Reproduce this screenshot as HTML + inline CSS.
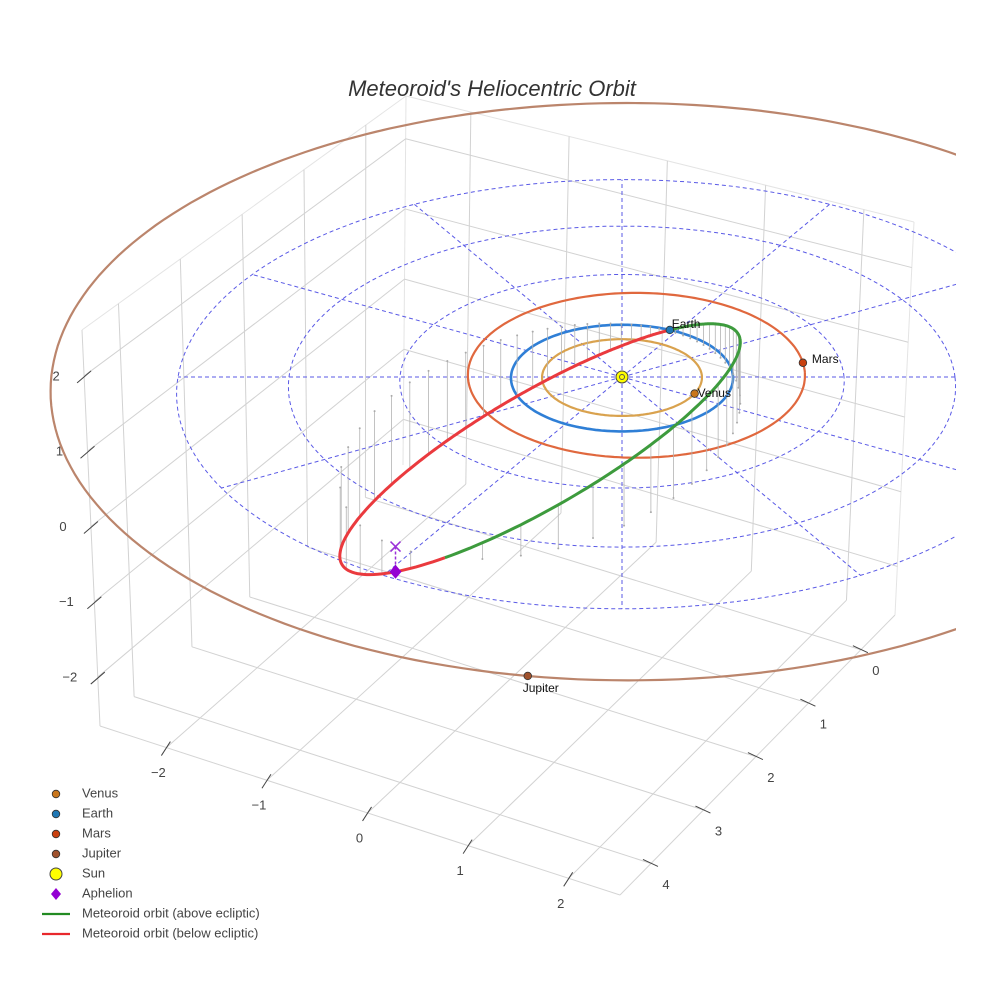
<!DOCTYPE html>
<html><head><meta charset="utf-8"><style>
html,body{margin:0;padding:0;background:#fff}
svg{display:block;font-family:"Liberation Sans",Arial,sans-serif}
</style></head><body>
<svg id="chart" width="984" height="984" viewBox="0 0 984 984" xmlns="http://www.w3.org/2000/svg">
<defs><clipPath id="sceneClip"><rect x="0" y="0" width="956" height="984"/></clipPath></defs>
<rect width="984" height="984" fill="#fff"/>
<text x="492" y="96" text-anchor="middle" font-size="22" font-style="italic" fill="#333">Meteoroid's Heliocentric Orbit</text>
<g id="box"></g>
<g id="ecl" clip-path="url(#sceneClip)"></g>
<g id="legend"></g>
</svg>
<script>
// ---- data ----
const xTicks = [-2, -1, 0, 1, 2];
const yTicks = [0, 1, 2, 3, 4];
const zTicks = [-2, -1, 0, 1, 2];
const gridRings = [2, 3, 4];
const radialAngles = [0, 30, 60, 90, 120, 150, 180, 210, 240, 270, 300, 330];
const planetNames = ["Venus", "Earth", "Mars", "Jupiter"];
const planetA = [0.72, 1.0, 1.52, 5.2];
const planetB = [0.72, 1.0, 1.55, 5.42];
const planetCenterOffset = [0, 0, 0.13, 0.05];
const planetCenterOffsetV = [0, 0, 0.08, 0.31];
const planetAngleDeg = [-25.5, 64, 7, -99];
const orbitA = 2.271, orbitE = 0.5705, orbitIncDeg = 34, nodeAngleDeg = -115.2, apAfterNodeDeg = 9;

const NS = "http://www.w3.org/2000/svg";
function mk(tag, attrs, parent) {
  const el = document.createElementNS(NS, tag);
  for (const k in attrs) el.setAttribute(k, attrs[k]);
  parent.appendChild(el);
  return el;
}
// ---- box projection (trilinear) ----
const X0 = -2.66, X1 = 2.51, Y0 = -0.65, Y1 = 4.59, Z0 = -2.65, Z1 = 2.61;
const C = {
  "000": [403, 465], "100": [895, 615], "010": [100, 726], "110": [620, 895],
  "001": [406, 96], "101": [914, 222], "011": [82, 330], "111": [590, 480]
};
function B(x, y, z) {
  const a = (x - X0) / (X1 - X0), b = (y - Y0) / (Y1 - Y0), c = (z - Z0) / (Z1 - Z0);
  let px = 0, py = 0;
  for (const key in C) {
    const wx = key[0] === "1" ? a : 1 - a, wy = key[1] === "1" ? b : 1 - b, wz = key[2] === "1" ? c : 1 - c;
    const w = wx * wy * wz;
    px += w * C[key][0]; py += w * C[key][1];
  }
  return [px, py];
}
const box = document.getElementById("box");
function bline(p, q, color, name, w) {
  const l = mk("line", {x1: p[0], y1: p[1], x2: q[0], y2: q[1], stroke: color, "stroke-width": w || 1}, box);
  
  
}
bline(B(X0,Y0,Z0), B(X0,Y0,Z1), "#e4e4e4", "box-edge");
bline(B(X0,Y0,Z1), B(X1,Y0,Z1), "#e4e4e4", "box-edge");
bline(B(X0,Y0,Z1), B(X0,Y1,Z1), "#e4e4e4", "box-edge");
bline(B(X0,Y1,Z1), B(X0,Y1,Z0), "#d4d4d4", "z-axis-line");
bline(B(X0,Y1,Z0), B(X1,Y1,Z0), "#d4d4d4", "x-axis-line");
bline(B(X1,Y1,Z0), B(X1,Y0,Z0), "#d4d4d4", "y-axis-line");
bline(B(X1,Y0,Z0), B(X1,Y0,Z1), "#e4e4e4", "box-edge");
xTicks.forEach(x => {
  bline(B(x,Y0,Z0), B(x,Y1,Z0), "#d2d2d2", "floor-grid-x");
  bline(B(x,Y0,Z0), B(x,Y0,Z1), "#d2d2d2", "back-grid-x");
});
yTicks.forEach(y => {
  bline(B(X0,y,Z0), B(X1,y,Z0), "#d2d2d2", "floor-grid-y");
  bline(B(X0,y,Z0), B(X0,y,Z1), "#d2d2d2", "left-grid-y");
});
zTicks.forEach(z => {
  bline(B(X0,Y0,z), B(X1,Y0,z), "#d2d2d2", "back-grid-z");
  bline(B(X0,Y0,z), B(X0,Y1,z), "#d2d2d2", "left-grid-z");
});
function tlabel(x, y, s, name) {
  const t = mk("text", {x: x, y: y, "font-size": 13, fill: "#444", "text-anchor": "middle", "dominant-baseline": "middle"}, box);
  t.textContent = s;
  
  
}
const fmt = v => v < 0 ? "\u2212" + Math.abs(v) : String(v);
xTicks.forEach(x => {
  const p = B(x, Y1, Z0);
  bline([p[0]-5, p[1]+8], [p[0]+4, p[1]-6], "#444", "x-tick-mark");
  tlabel(p[0]-8, p[1]+26, fmt(x), "x-tick-label");
});
yTicks.forEach(y => {
  const p = B(X1, y, Z0);
  bline([p[0]-8, p[1]-4], [p[0]+7, p[1]+3], "#444", "y-tick-mark");
  tlabel(p[0]+15, p[1]+22, fmt(y), "y-tick-label");
});
zTicks.forEach(z => {
  const p = B(X0, Y1, z);
  bline([p[0]-7, p[1]+7], [p[0]+7, p[1]-5], "#444", "z-tick-mark");
  tlabel(p[0]-28, p[1]+1, fmt(z), "z-tick-label");
});

// ---- ecliptic projection ----
function E(u, v, z) {
  const w = 1 + 0.02 * v;
  return [622 + 111 * u / w, 377 - (53.3 * v + 76 * (z || 0)) / w];
}
const ecl = document.getElementById("ecl");
function pathFrom(pts) { return pts.map((p, i) => (i ? "L" : "M") + p[0].toFixed(1) + "," + p[1].toFixed(1)).join(""); }
function ring(ra, rb, cu, cv, color, w, dash, name) {
  const pts = [];
  for (let k = 0; k <= 240; k++) { const t = k / 240 * 2 * Math.PI; pts.push(E(cu + ra * Math.cos(t), cv + rb * Math.sin(t), 0)); }
  const p = mk("path", {d: pathFrom(pts), fill: "none", stroke: color, "stroke-width": w}, ecl);
  if (dash) p.setAttribute("stroke-dasharray", dash);
  
  
}
gridRings.forEach(r => ring(r, r, 0, 0, "#5a5ae6", 1, "4,3", "ecliptic-grid-ring"));
radialAngles.forEach(a => {
  const t = a * Math.PI / 180, p = E(0,0,0), q = E(4 * Math.cos(t), 4 * Math.sin(t), 0);
  const l = mk("line", {x1: p[0], y1: p[1], x2: q[0], y2: q[1], stroke: "#5a5ae6", "stroke-width": 1, "stroke-dasharray": "4,3"}, ecl);
  
  
});
const ringColors = ["#d9a24e", "#2f7fd6", "#e0683e", "#bb856c"];
const dotColors = ["#c9761c", "#1f77b4", "#c9400f", "#a0522d"];
planetNames.forEach((n, i) => ring(planetA[i], planetB[i], planetCenterOffset[i], planetCenterOffsetV[i], ringColors[i], i === 1 ? 2.6 : 2.2, null, n.toLowerCase() + "-orbit"));

// ---- meteoroid orbit ----
const inc = orbitIncDeg * Math.PI / 180, om = nodeAngleDeg * Math.PI / 180, al = apAfterNodeDeg * Math.PI / 180;
const p_ = orbitA * (1 - orbitE * orbitE);
const nH = [Math.cos(om), Math.sin(om)], mH = [Math.sin(om), -Math.cos(om)];
function orbitPt(phi) {
  const nu = phi - al + Math.PI;
  const r = p_ / (1 + orbitE * Math.cos(nu));
  const a = r * Math.cos(phi), b = r * Math.sin(phi) * Math.cos(inc);
  return [a * nH[0] + b * mH[0], a * nH[1] + b * mH[1], -r * Math.sin(phi) * Math.sin(inc)];
}
for (let d = 0; d < 360; d += 6) {
  const o = orbitPt(d * Math.PI / 180);
  if (Math.abs(o[2]) < 0.03) continue;
  const a = E(o[0], o[1], o[2]), b = E(o[0], o[1], 0);
  const l = mk("line", {x1: a[0], y1: a[1], x2: b[0], y2: b[1], stroke: "#b4b4b4", "stroke-width": 0.8}, ecl);
  
  
  const c = mk("circle", {cx: b[0], cy: b[1], r: 1, fill: "#aaa"}, ecl);
  
  
}
const below = [], above = [];
for (let k = 0; k <= 180; k++) { const o = orbitPt(k / 180 * Math.PI); below.push(E(o[0], o[1], o[2])); }
for (let k = 0; k <= 180; k++) { const o = orbitPt(Math.PI + k / 180 * Math.PI); above.push(E(o[0], o[1], o[2])); }
const gP = mk("path", {d: pathFrom(above), fill: "none", stroke: "#3d9b3d", "stroke-width": 3}, ecl);


const rP = mk("path", {d: pathFrom(below), fill: "none", stroke: "#ea3a3e", "stroke-width": 3}, ecl);



const ap = orbitPt(al), apS = E(ap[0], ap[1], ap[2]), apP = E(ap[0], ap[1], 0);
const apl = mk("line", {x1: apP[0], y1: apP[1], x2: apS[0], y2: apS[1], stroke: "#9b30d9", "stroke-width": 1.5, "stroke-dasharray": "3,2"}, ecl);


const apx = mk("path", {d: `M${apP[0]-5},${apP[1]-5}L${apP[0]+5},${apP[1]+5}M${apP[0]-5},${apP[1]+5}L${apP[0]+5},${apP[1]-5}`, stroke: "#9b30d9", "stroke-width": 1.5}, ecl);


const apd = mk("path", {d: `M${apS[0]},${apS[1]-7}L${apS[0]+6},${apS[1]}L${apS[0]},${apS[1]+7}L${apS[0]-6},${apS[1]}Z`, fill: "#9400d3"}, ecl);



const s = E(0, 0, 0);
const sun = mk("circle", {cx: s[0], cy: s[1], r: 6, fill: "#ffff00", stroke: "#444", "stroke-width": 1}, ecl);


const sunIn = mk("circle", {cx: s[0], cy: s[1], r: 2.5, fill: "none", stroke: "#555", "stroke-width": 1}, ecl);



const labelOff = [[3, 0], [2, -5], [9, -3], [-5, 13]];
planetNames.forEach((n, i) => {
  const t = planetAngleDeg[i] * Math.PI / 180;
  const q = E(planetCenterOffset[i] + planetA[i] * Math.cos(t), planetCenterOffsetV[i] + planetB[i] * Math.sin(t), 0);
  const c = mk("circle", {cx: q[0], cy: q[1], r: 3.8, fill: dotColors[i], stroke: "#333", "stroke-width": 0.8}, ecl);
  
  
  const tx = mk("text", {x: q[0] + labelOff[i][0], y: q[1] + labelOff[i][1], "font-size": 12, fill: "#111", "dominant-baseline": "middle"}, ecl);
  tx.textContent = n;
  
  
});

// ---- legend ----
const lg = document.getElementById("legend");
const legendItems = [
  ["Venus", "dot", "#c9761c"], ["Earth", "dot", "#1f77b4"], ["Mars", "dot", "#c9400f"], ["Jupiter", "dot", "#a0522d"],
  ["Sun", "sun", "#ffff00"], ["Aphelion", "diamond", "#9400d3"],
  ["Meteoroid orbit (above ecliptic)", "line", "#228b22"], ["Meteoroid orbit (below ecliptic)", "line", "#e8282c"]
];
legendItems.forEach((it, i) => {
  const y = 794 + i * 20;
  const g = mk("g", {}, lg);
  
  
  if (it[1] === "dot") mk("circle", {cx: 56, cy: y, r: 3.8, fill: it[2], stroke: "#333", "stroke-width": 0.8}, g);
  else if (it[1] === "sun") mk("circle", {cx: 56, cy: y, r: 6, fill: it[2], stroke: "#444", "stroke-width": 1}, g);
  else if (it[1] === "diamond") mk("path", {d: `M56,${y-6}L61,${y}L56,${y+6}L51,${y}Z`, fill: it[2]}, g);
  else mk("line", {x1: 42, y1: y, x2: 70, y2: y, stroke: it[2], "stroke-width": 2.2}, g);
  const t = mk("text", {x: 82, y: y, "font-size": 13, fill: "#444", "dominant-baseline": "middle"}, g);
  t.textContent = it[0];
});
</script>
</body></html>
